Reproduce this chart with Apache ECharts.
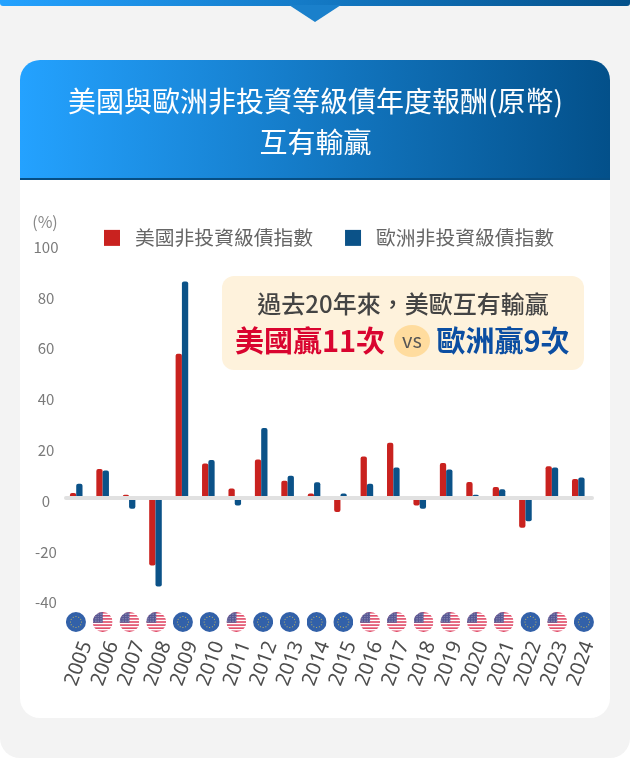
<!DOCTYPE html>
<html><head><meta charset="utf-8">
<style>html,body{margin:0;padding:0;background:#fff}#c{width:630px;height:758px}</style>
<script src="https://cdn.jsdelivr.net/npm/echarts@6/dist/echarts.min.js"></script></head>
<body><div id="c"></div>
<script>
const years = ['2005','2006','2007','2008','2009','2010','2011','2012','2013','2014','2015','2016','2017','2018','2019','2020','2021','2022','2023','2024'];
const usHighYield = [2.0,11.4,1.3,-26.6,56.8,13.6,3.7,15.2,6.8,1.8,-5.5,16.3,21.8,-3.0,13.8,6.3,4.3,-11.7,12.5,7.5];
const euHighYield = [5.6,10.8,-4.2,-34.8,85.2,15.0,-3.0,27.6,8.8,6.2,1.8,5.6,12.0,-4.2,11.2,1.3,3.4,-9.2,12.0,8.1];
const winners = ['EU','US','US','US','EU','EU','US','EU','EU','EU','EU','US','US','US','US','US','US','EU','US','EU'];
const yTicks = {min:-40,max:100,interval:20};
const titleText = '美國與歐洲非投資等級債年度報酬(原幣)\n互有輸贏';
const seriesNames = ['美國非投資級債指數','歐洲非投資級債指數'];

const CJK = '"Noto Sans CJK TC","Noto Sans",sans-serif';
const RED='#c9221f', BLUE='#0b5288';
const grad = ()=>new echarts.graphic.LinearGradient(0,0,1,0,[{offset:0,color:'#24a2ff'},{offset:1,color:'#03508a'}]);

function usFlag(){
  let s='<svg xmlns="http://www.w3.org/2000/svg" width="160" height="160" viewBox="0 0 80 80"><defs><clipPath id="a"><circle cx="40" cy="40" r="40"/></clipPath></defs><g clip-path="url(#a)"><rect width="80" height="80" fill="#fff"/>';
  for(let i=0;i<7;i++) s+='<rect x="0" y="'+(i*80/6.5)+'" width="80" height="'+(80/13)+'" fill="#d8143a"/>';
  s+='<rect width="40" height="43" fill="#2f2f7a"/>';
  for(let r=0;r<6;r++)for(let c=0;c<6;c++) s+='<circle cx="'+(4+c*6.5)+'" cy="'+(4+r*7)+'" r="1.2" fill="#fff"/>';
  return 'image://data:image/svg+xml;charset=utf-8,'+encodeURIComponent(s+'</g></svg>');
}
function euFlag(){
  let s='<svg xmlns="http://www.w3.org/2000/svg" width="160" height="160" viewBox="0 0 80 80"><circle cx="40" cy="40" r="40" fill="#003a94"/>';
  for(let i=0;i<12;i++){const a=i*Math.PI/6;s+='<circle cx="'+(40+22*Math.cos(a))+'" cy="'+(40+22*Math.sin(a))+'" r="2.2" fill="#c9b52e"/>';}
  return 'image://data:image/svg+xml;charset=utf-8,'+encodeURIComponent(s+'</svg>');
}
const flags={US:usFlag(),EU:euFlag()};

const chart = echarts.init(document.getElementById('c'),null,{renderer:'canvas',width:630,height:758});
const GL=63, GW=528.5;
const bgGraphic=[
 {type:'rect',z:-10,shape:{x:0,y:0,width:630,height:758,r:[0,0,20,20]},style:{fill:'#f3f3f3'}},
 {type:'rect',z:-9,shape:{x:0,y:-4,width:630,height:10,r:3},style:{fill:grad()}},
 {type:'polygon',z:-9,shape:{points:[[289,5],[341,5],[315,22]]},style:{fill:'#1a80cb'}},
 {type:'rect',z:-8,shape:{x:20,y:60,width:590,height:658,r:20},style:{fill:'#fff'}},
 {type:'rect',z:-7,shape:{x:20,y:60,width:590,height:120,r:[20,20,0,0]},style:{fill:grad()}},
 {type:'rect',z:-6,shape:{x:20,y:178,width:590,height:2},style:{fill:'#064e84'}},
 {type:'rect',z:10,shape:{x:222,y:276,width:362,height:94,r:12},style:{fill:'#fef2dc'}},
 {type:'text',z:11,style:{x:403,y:304,text:'過去20年來，美歐互有輸贏',fill:'#444',font:'500 24px '+CJK,align:'center',verticalAlign:'middle'}},
 {type:'text',z:11,style:{x:310,y:341,text:'美國贏11次',fill:'#d9042f',font:'700 29px '+CJK,align:'center',verticalAlign:'middle'}},
 {type:'ellipse',z:11,shape:{cx:412,cy:341,rx:18,ry:16},style:{fill:'#ffdc9e'}},
 {type:'text',z:12,style:{x:412,y:340,text:'vs',fill:'#555',font:'400 20px '+CJK,align:'center',verticalAlign:'middle'}},
 {type:'text',z:11,style:{x:503,y:341,text:'歐洲贏9次',fill:'#0b4ea2',font:'700 29px '+CJK,align:'center',verticalAlign:'middle'}}
];
chart.setOption({
 animation:false,
 textStyle:{fontFamily:CJK},
 title:{text:titleText,left:310.5,top:76,textAlign:'center',textStyle:{color:'#fff',fontSize:28,fontWeight:400,lineHeight:41,fontFamily:CJK}},
 legend:{left:104,top:228,padding:0,itemWidth:16,itemHeight:16,itemGap:32,icon:'rect',data:seriesNames,
   textStyle:{color:'#666',fontSize:19.8,fontFamily:CJK,padding:[0,0,0,10]}},
 grid:[{left:GL,top:244,width:GW,height:355.6},{left:62.6,top:612,width:534.7,height:20},{left:GL+2.5,top:244,width:GW,height:355.6}],
 xAxis:[
  {type:'category',gridIndex:0,data:years,show:false},
  {type:'category',gridIndex:1,data:years,show:false},
  {type:'category',gridIndex:2,data:years,position:'bottom',axisLine:{show:false,onZero:false},axisTick:{show:false},
   axisLabel:{interval:0,rotate:70,align:'center',verticalAlign:'middle',margin:64,fontSize:20,color:'#4d4d4d',fontFamily:'"Noto Sans",sans-serif',hideOverlap:false}}
 ],
 yAxis:[
  {type:'value',gridIndex:0,min:yTicks.min,max:yTicks.max,interval:yTicks.interval,name:'(%)',nameLocation:'end',nameGap:14,
   nameTextStyle:{color:'#888',fontSize:16,fontFamily:CJK,align:'center',padding:[0,36,0,0]},
   axisLine:{show:false},axisTick:{show:false},splitLine:{show:false},
   axisLabel:{align:'center',margin:17,color:'#808080',formatter:'{n|{value}}',
     rich:{n:{fontSize:15,color:'#7a7a7a',fontFamily:CJK,padding:[6,0,0,0]}}}},
  {type:'category',gridIndex:1,data:['flag'],show:false},
  {type:'value',gridIndex:2,show:false}
 ],
 series:[
  {name:seriesNames[0],type:'bar',data:usHighYield,barWidth:6.3,barGap:'0%',itemStyle:{color:RED,borderRadius:2}},
  {name:seriesNames[1],type:'bar',data:euHighYield,barWidth:6.3,barGap:'0%',itemStyle:{color:BLUE,borderRadius:2}},
  {type:'scatter',xAxisIndex:1,yAxisIndex:1,symbolSize:20,silent:true,legendHoverLink:false,
   data:winners.map((w,i)=>({value:[i,0],symbol:flags[w]}))}
 ],
 graphic:bgGraphic
});
const y0=chart.convertToPixel({yAxisIndex:0},0);
chart.setOption({graphic:bgGraphic.concat([{type:'rect',z:5,shape:{x:64,y:y0-2,width:530,height:4,r:2},style:{fill:'#e1e1e1'}}])});
</script></body></html>
